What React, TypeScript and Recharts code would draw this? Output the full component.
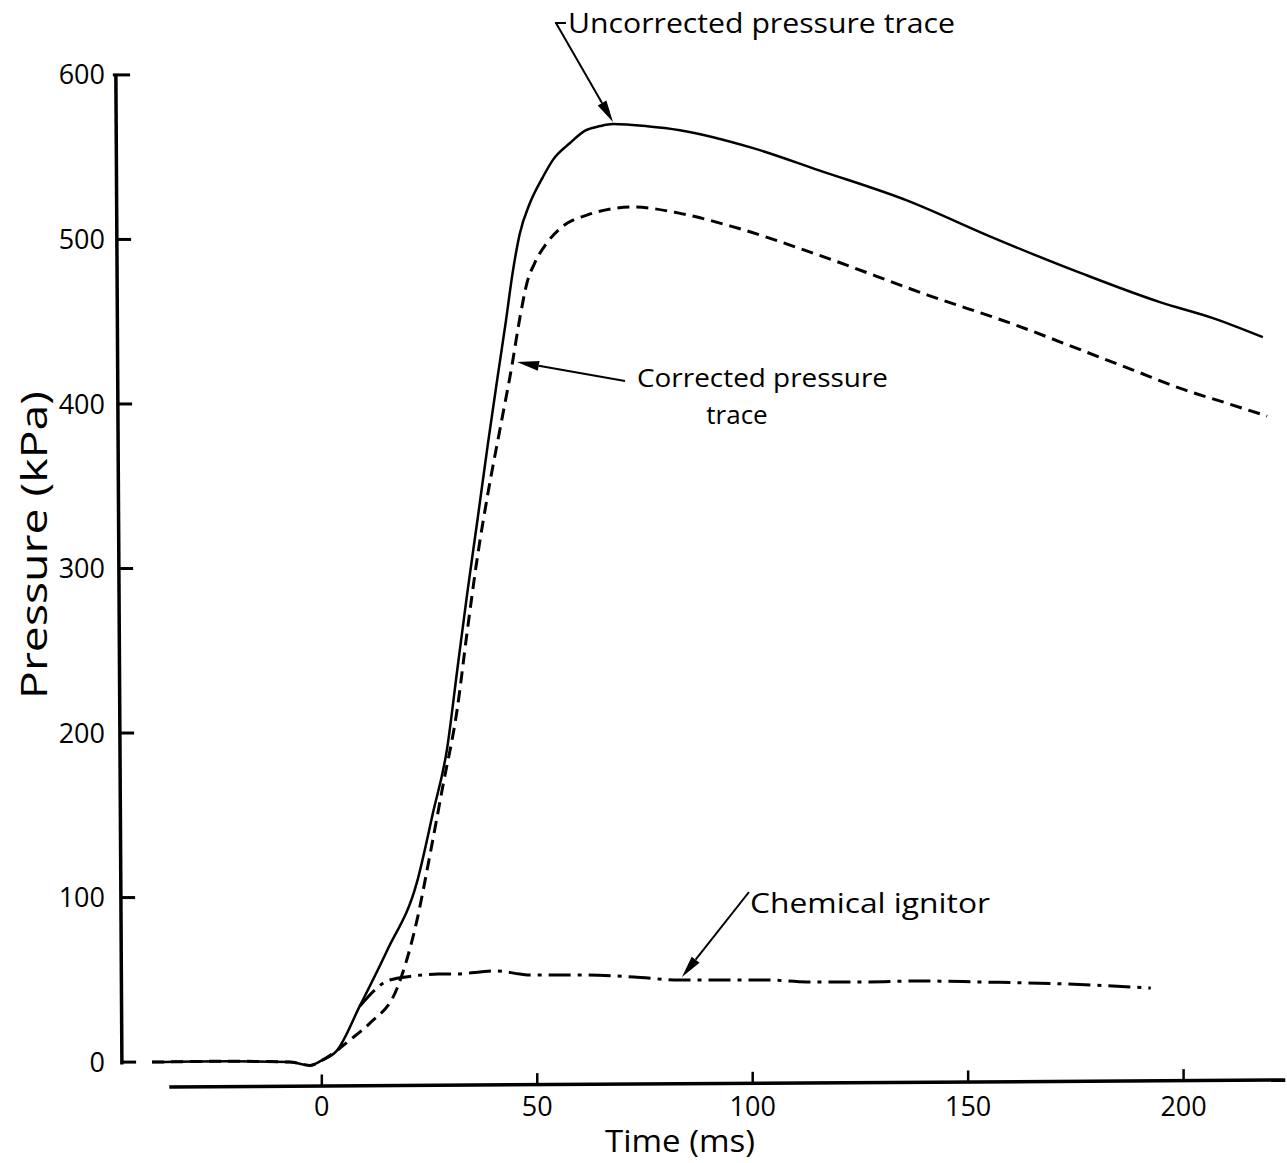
import React from 'react';
import { LineChart, Line, XAxis, YAxis, ReferenceLine, Customized } from 'recharts';

// time (ms) / pressure (kPa)
const uncorrectedTime = [-39.4, -21.4, -7.4, -2.7, 0, 3.5, 8.8, 15.1, 22.1, 25.8, 29.1, 31.4, 33.7, 36.2, 38.5, 40.6, 42.7, 44.3, 45.9, 48.3, 51.3, 53.6, 57.6, 61, 64.6, 67.6, 75.5, 83.1, 100.1, 115.4, 135.6, 156, 176.2, 194.5, 206.8, 218.4];
const uncorrectedPressure = [0, 0.5, 0, -2, 1, 7, 34, 67.5, 109.5, 151.5, 191, 237.7, 284, 331, 375, 413, 450, 480, 503, 522.1, 537.9, 548.2, 558.6, 566, 568.9, 570.1, 568.8, 566.4, 555.5, 542, 523.9, 500.8, 479.5, 461.9, 452.2, 440.6];

const correctedTime = [-39.4, -21.4, -7.4, -2.7, 0, 3.5, 6.5, 11.2, 17.4, 22.1, 25.1, 28.1, 31.4, 33.7, 36, 38.5, 41.3, 44.1, 46, 47.6, 49.4, 52.2, 55.7, 61.5, 72.2, 82.9, 94.9, 115.3, 140.6, 161, 176.2, 188.3, 199.1, 210, 219.4];
const correctedPressure = [0, 0.5, 0, -2, 1, 7, 13.4, 23.8, 44.4, 86.4, 126, 167.9, 214.1, 260.9, 305, 345, 384, 423, 452.8, 473.5, 485.6, 497.8, 507.5, 514.8, 519.7, 516, 508.1, 490.5, 466.2, 448, 432.8, 420.6, 409.6, 400.5, 392.6];

const ignitorTime = [8.8, 12.3, 15.1, 21.1, 27.1, 30.4, 40.7, 46, 48.5, 61.8, 72.4, 83.1, 103.1, 112.6, 125.8, 139.1, 152.5, 172.5, 192.4];
const ignitorPressure = [34, 43.8, 49.3, 52.3, 53.5, 53.5, 55.4, 53.5, 52.9, 52.9, 51.7, 49.9, 49.9, 48.7, 48.7, 49.3, 48.7, 47.5, 45];

const xTicks = [0, 50, 100, 150, 200];
const yTicks = [0, 100, 200, 300, 400, 500, 600];

const toPoints = (ts: number[], ps: number[]) => ts.map((t, i) => ({ t, p: ps[i] }));

const FONT = '"Open Sans", "DejaVu Sans", sans-serif';

// axis lines in the drawing are slightly skewed
const yAxisX = (p: number) => -46.4 - 1.4 * (p / 600);
const xAxisP = (t: number) => -15.1 + 4.2 * ((t + 35.4) / 259);

function Arrow({ x1, y1, x2, y2 }: { x1: number; y1: number; x2: number; y2: number }) {
  const dx = x2 - x1;
  const dy = y2 - y1;
  const len = Math.hypot(dx, dy);
  const ux = dx / len;
  const uy = dy / len;
  const hl = 22;
  const hw = 5;
  const bx = x2 - ux * hl;
  const by = y2 - uy * hl;
  return (
    <g>
      <line x1={x1} y1={y1} x2={bx} y2={by} stroke="#000" strokeWidth={2} />
      <polygon points={`${x2},${y2} ${bx - uy * hw},${by + ux * hw} ${bx + uy * hw},${by - ux * hw}`} fill="#000" />
    </g>
  );
}

const Annotations = () => (
  <g fontFamily={FONT} fill="#000">
    <text x={568} y={33} fontSize={28} textLength={387} lengthAdjust="spacingAndGlyphs">Uncorrected pressure trace</text>
    <line x1={555} y1={23} x2={566} y2={23} stroke="#000" strokeWidth={2} />
    <Arrow x1={556} y1={23} x2={613} y2={122} />

    <text x={637} y={387} fontSize={26} textLength={251} lengthAdjust="spacingAndGlyphs">Corrected pressure</text>
    <text x={737} y={424} fontSize={26} textAnchor="middle">trace</text>
    <Arrow x1={625} y1={381} x2={517} y2={362} />

    <text x={750} y={913} fontSize={28} textLength={240} lengthAdjust="spacingAndGlyphs">Chemical ignitor</text>
    <Arrow x1={749} y1={892} x2={682} y2={977} />

    <text x={47} y={545} fontSize={36} textAnchor="middle" textLength={308} lengthAdjust="spacingAndGlyphs" transform="rotate(-90, 47, 545)">Pressure (kPa)</text>
    <text x={680} y={1152} fontSize={31} textAnchor="middle" textLength={150} lengthAdjust="spacingAndGlyphs">Time (ms)</text>
  </g>
);

export default function App() {
  const tickStyle = { fontSize: 27, fill: '#000', fontFamily: FONT };
  return (
    <div style={{ position: 'absolute', left: 0, top: 0, background: '#fff', fontFamily: FONT }}>
      <LineChart width={1287} height={1163} margin={{ top: 42, right: 0, bottom: 0, left: 0 }}>
        <XAxis
          dataKey="t"
          type="number"
          domain={[-48, 224]}
          ticks={xTicks}
          interval={0}
          allowDataOverflow
          axisLine={false}
          tickLine={false}
          tickSize={0}
          tickMargin={2}
          height={68}
          tick={tickStyle}
        />
        <YAxis
          dataKey="p"
          type="number"
          domain={[-20, 620]}
          ticks={yTicks}
          interval={0}
          allowDataOverflow
          axisLine={false}
          tickLine={false}
          tickSize={0}
          tickMargin={10}
          width={115}
          tick={tickStyle}
        />
        <ReferenceLine
          segment={[{ x: -35.4, y: xAxisP(-35.4) }, { x: 223.6, y: xAxisP(223.6) }]}
          stroke="#000"
          strokeWidth={3.5}
          ifOverflow="visible"
        />
        <ReferenceLine
          segment={[{ x: yAxisX(-1.5), y: -1.5 }, { x: yAxisX(600), y: 600 }]}
          stroke="#000"
          strokeWidth={3.5}
          ifOverflow="visible"
        />
        {yTicks.map((v) => (
          <ReferenceLine
            key={'yt' + v}
            segment={[{ x: yAxisX(v) - (v === 600 ? 0.7 : 0), y: v }, { x: yAxisX(v) + 3.3, y: v }]}
            stroke="#000"
            strokeWidth={3}
            ifOverflow="visible"
          />
        ))}
        {xTicks.map((v) => (
          <ReferenceLine
            key={'xt' + v}
            segment={[{ x: v, y: xAxisP(v) }, { x: v, y: xAxisP(v) + 7 }]}
            stroke="#000"
            strokeWidth={2.5}
            ifOverflow="visible"
          />
        ))}
        <Line
          data={toPoints(uncorrectedTime, uncorrectedPressure)}
          dataKey="p"
          type="monotone"
          stroke="#000"
          strokeWidth={2.5}
          dot={false}
          isAnimationActive={false}
        />
        <Line
          data={toPoints(correctedTime, correctedPressure)}
          dataKey="p"
          type="monotone"
          stroke="#000"
          strokeWidth={3}
          strokeDasharray="12 7"
          dot={false}
          isAnimationActive={false}
        />
        <Line
          data={toPoints(ignitorTime, ignitorPressure)}
          dataKey="p"
          type="monotone"
          stroke="#000"
          strokeWidth={3}
          strokeDasharray="22 7 4 7"
          dot={false}
          isAnimationActive={false}
        />
        <Customized component={Annotations} />
      </LineChart>
    </div>
  );
}
